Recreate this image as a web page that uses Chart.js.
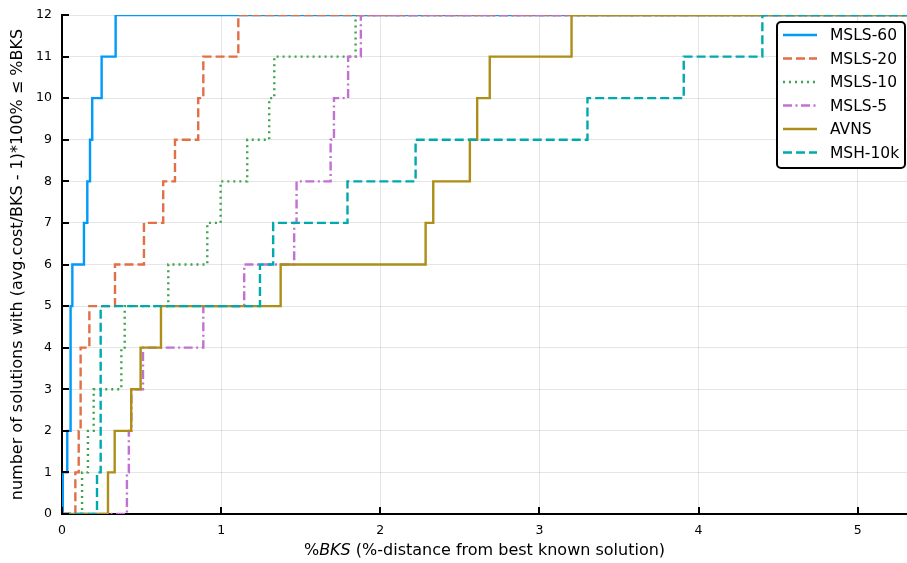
<!DOCTYPE html>
<html>
<head>
<meta charset="utf-8">
<script src="https://cdn.jsdelivr.net/npm/chart.js@4/dist/chart.umd.min.js"></script>
<style>
  body { margin: 0; background: #fff; }
  #wrap { width: 907px; height: 563px; }
</style>
</head>
<body>
<div id="wrap"><canvas id="cdfChart" width="907" height="563"></canvas></div>
<script>
// values: x where the count of solutions steps up to 1..12
const solutionCounts = [1, 2, 3, 4, 5, 6, 7, 8, 9, 10, 11, 12];
const msls60 = [0.005, 0.033, 0.054, 0.054, 0.054, 0.065, 0.138, 0.159, 0.176, 0.19, 0.249, 0.337];
const msls20 = [0.084, 0.105, 0.117, 0.117, 0.172, 0.333, 0.515, 0.636, 0.71, 0.856, 0.888, 1.108];
const msls10 = [0.126, 0.163, 0.199, 0.373, 0.394, 0.668, 0.913, 0.997, 1.164, 1.302, 1.334, 1.845];
const msls5 = [0.408, 0.42, 0.436, 0.509, 0.888, 1.145, 1.459, 1.474, 1.688, 1.709, 1.798, 1.878];
const avns = [0.289, 0.331, 0.435, 0.494, 0.622, 1.374, 2.285, 2.333, 2.563, 2.609, 2.688, 3.202];
const msh10k = [0.22, 0.243, 0.243, 0.243, 0.243, 1.244, 1.327, 1.794, 2.222, 3.302, 3.907, 4.401];

const seriesNames = ['MSLS-60', 'MSLS-20', 'MSLS-10', 'MSLS-5', 'AVNS', 'MSH-10k'];
const seriesSteps = [msls60, msls20, msls10, msls5, avns, msh10k];
const seriesColors = ['#009af9', '#e26f46', '#3da44d', '#c271d2', '#ac8e18', '#00a9ad'];
const seriesDashes = [[], [9, 4], [2, 4], [9, 3.5, 2, 3.5], [], [9, 4]];

const xTicks = [0, 1, 2, 3, 4, 5];
const yTicks = [0, 1, 2, 3, 4, 5, 6, 7, 8, 9, 10, 11, 12];
const xMin = 0, xMax = 5.31;

const font = 'DejaVu Sans';

function stepPoints(steps) {
    const pts = [{ x: 0, y: 0 }];
    steps.forEach((x, i) => pts.push({ x: x, y: solutionCounts[i] }));
    pts.push({ x: xMax + 1, y: solutionCounts[solutionCounts.length - 1] });
    return pts;
}

const datasets = seriesNames.map((name, i) => ({
    label: name,
    data: stepPoints(seriesSteps[i]),
    borderColor: seriesColors[i],
    backgroundColor: seriesColors[i],
    borderWidth: 2.4,
    borderDash: seriesDashes[i],
    stepped: 'before',
    pointRadius: 0,
    fill: false,
    order: seriesNames.length - i // later series on top, like the original
}));

// small inward tick marks on both axes
const innerTicks = {
    id: 'innerTicks',
    afterDraw(chart) {
        const ctx = chart.ctx;
        const area = chart.chartArea;
        const xs = chart.scales.x, ys = chart.scales.y;
        ctx.save();
        ctx.strokeStyle = '#000';
        ctx.lineWidth = 2;
        ctx.setLineDash([]);
        ctx.beginPath();
        xTicks.forEach(v => {
            const px = Math.round(xs.getPixelForValue(v));
            ctx.moveTo(px, area.bottom);
            ctx.lineTo(px, area.bottom - 7);
        });
        yTicks.forEach(v => {
            const py = Math.round(ys.getPixelForValue(v));
            ctx.moveTo(area.left, py);
            ctx.lineTo(area.left + 7, py);
        });
        ctx.stroke();
        ctx.restore();
    }
};

// x title with italic BKS
const xTitle = {
    id: 'xTitle',
    afterDraw(chart) {
        const ctx = chart.ctx;
        const area = chart.chartArea;
        const parts = [
            { t: '%', f: '16px "' + font + '"' },
            { t: 'BKS', f: 'italic 16px "' + font + '"' },
            { t: ' (%-distance from best known solution)', f: '16px "' + font + '"' }
        ];
        ctx.save();
        let total = 0;
        parts.forEach(p => { ctx.font = p.f; p.w = ctx.measureText(p.t).width; total += p.w; });
        let x = (area.left + area.right) / 2 - total / 2;
        ctx.fillStyle = '#000';
        ctx.textBaseline = 'middle';
        ctx.textAlign = 'left';
        parts.forEach(p => { ctx.font = p.f; ctx.fillText(p.t, x, 551); x += p.w; });
        ctx.restore();
    }
};

// boxed legend in the top right corner of the plot
const legendBox = {
    id: 'legendBox',
    afterDraw(chart) {
        const ctx = chart.ctx;
        const area = chart.chartArea;
        const right = area.right - 2;
        const left = right - 128;
        const top = area.top + 7;
        const rowH = 23.5;
        const height = rowH * chart.data.datasets.length + 5;
        ctx.save();
        ctx.fillStyle = '#fff';
        ctx.strokeStyle = '#000';
        ctx.lineWidth = 2;
        ctx.setLineDash([]);
        ctx.beginPath();
        ctx.roundRect(left, top, right - left, height, 4);
        ctx.fill();
        ctx.stroke();
        ctx.font = '15.5px "' + font + '"';
        ctx.textBaseline = 'middle';
        ctx.textAlign = 'left';
        chart.data.datasets.forEach((ds, i) => {
            const y = top + 13 + i * rowH;
            ctx.strokeStyle = ds.borderColor;
            ctx.lineWidth = 2.4;
            ctx.setLineDash(ds.borderDash);
            ctx.beginPath();
            ctx.moveTo(left + 6, y);
            ctx.lineTo(left + 40, y);
            ctx.stroke();
            ctx.fillStyle = '#000';
            ctx.fillText(ds.label, left + 53, y + 1);
        });
        ctx.restore();
    }
};

const ctx = document.getElementById('cdfChart');
const cdfChart = new Chart(ctx, {
    type: 'line',
    data: { datasets: datasets },
    options: {
        responsive: false,
        animation: false,
        layout: { padding: { top: 15, right: 0, left: 0, bottom: 0 } },
        plugins: {
            legend: { display: false },
            tooltip: { enabled: false }
        },
        scales: {
            x: {
                type: 'linear',
                min: xMin,
                max: xMax,
                afterBuildTicks: s => { s.ticks = xTicks.map(v => ({ value: v })); },
                afterFit: s => { s.height = 49; s.paddingLeft = 0; s.paddingRight = 0; },
                ticks: {
                    color: '#000',
                    font: { family: font, size: 12.5 },
                    padding: 9,
                    maxRotation: 0,
                    autoSkip: false
                },
                grid: { color: 'rgba(0,0,0,0.1)', lineWidth: 1, drawTicks: false },
                border: { display: true, color: '#000', width: 2 }
            },
            y: {
                type: 'linear',
                min: 0,
                max: 12,
                afterBuildTicks: s => { s.ticks = yTicks.map(v => ({ value: v })); },
                afterFit: s => { s.width = 62; s.paddingTop = 0; s.paddingBottom = 0; },
                ticks: {
                    color: '#000',
                    font: { family: font, size: 12.5 },
                    padding: 10,
                    autoSkip: false
                },
                grid: { color: 'rgba(0,0,0,0.1)', lineWidth: 1, drawTicks: false },
                border: { display: true, color: '#000', width: 2 },
                title: {
                    display: true,
                    text: 'number of solutions with (avg.cost/BKS - 1)*100% \u2264 %BKS',
                    color: '#000',
                    font: { family: font, size: 16 },
                    padding: { top: 8, bottom: 0 }
                }
            }
        }
    },
    plugins: [innerTicks, xTitle, legendBox]
});
</script>
</body>
</html>
